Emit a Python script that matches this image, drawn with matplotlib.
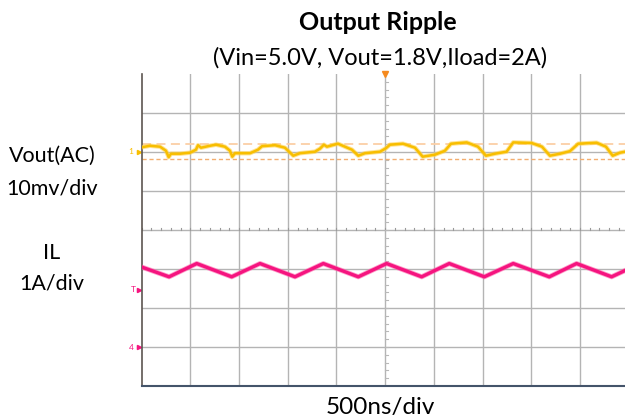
import numpy as np
import matplotlib
matplotlib.use("Agg")
import matplotlib.pyplot as plt

plt.rcParams['font.family'] = ['Lato', 'DejaVu Sans']

# scope settings
ns_per_div = 500
mv_per_div = 10
amp_per_div = 1
vout_ground_div = 2.0
il_ground_div = -3.0
trigger_div = -1.55
cursor_hi_mv = 1.95
cursor_lo_mv = -1.8

# Vout (AC) trace, time in ns, ripple in mV
vout_t = [3, 85, 188, 249, 277, 301, 393, 496, 557, 578, 609, 701, 763, 855, 906, 930,
          957, 1112, 1194, 1235, 1369, 1471, 1556, 1625, 1779, 1830, 1871, 1902, 2015,
          2087, 2159, 2224, 2293, 2447, 2508, 2549, 2683, 2806, 2885, 3011, 3114, 3176,
          3337, 3453, 3535, 3627, 3747, 3815, 4004, 4110, 4192, 4295, 4397, 4482, 4671,
          4767, 4836, 4911, 4962]
vout_mv = [1.23, 1.6, 1.36, 0.33, -1.33, -0.44, -0.44, -0.18, 0.59, 1.74, 1.1, 1.6, 1.87,
           1.36, 0.33, -1.2, -0.31, -0.31, 0.59, 1.49, 1.74, 1.1, -0.95, -0.31, 0.08, 0.85,
           1.87, 1.36, 2.13, 1.36, 0.59, -0.95, -0.31, 0.08, 0.97, 1.87, 2.13, 1.1, -1.2,
           -0.69, 0.33, 2.13, 2.46, 1.36, -0.95, -0.44, 0.08, 2.46, 2.31, 1.36, -0.95,
           -0.44, 0.21, 2.13, 2.38, 1.36, -0.95, -0.18, 0.08]

# inductor current, time in ns, current in A
il_t = [0, 281, 565, 924, 1215, 1574, 1865, 2224, 2515, 2875, 3158, 3518, 3815, 4185,
        4465, 4825, 4962]
il_a = [2.05, 1.80, 2.14, 1.80, 2.14, 1.80, 2.14, 1.80, 2.14, 1.80, 2.14, 1.80, 2.14,
        1.80, 2.14, 1.80, 1.96]

yellow = '#F8BE00'
magenta = '#F5147F'

fig = plt.figure(figsize=(6.25, 4.19), dpi=100)
ax = fig.add_axes([141.7 / 625, 33 / 419, (625 - 141.7) / 625, 312 / 419])
ax.set_xlim(0, 9.925)
ax.set_ylim(-4, 4)

# graticule
for gx in range(1, 10):
    ax.axvline(gx, color='#b4b4b4', lw=1.0, zorder=1)
for gy in range(-3, 4):
    ax.axhline(gy, color='#b4b4b4', lw=1.0, zorder=1)
minor = np.arange(0, 10, 0.2)
ax.plot(np.repeat(minor, 3), np.tile([0, 0.05, np.nan], len(minor)), color='#9a9a9a', lw=0.8, zorder=1)
minor_y = np.arange(-4, 4, 0.2)
ax.plot(np.tile([5, 5.06, np.nan], len(minor_y)), np.repeat(minor_y, 3), color='#b8b8b8', lw=0.8, zorder=1)

# cursors
ax.axhline(vout_ground_div + cursor_hi_mv / mv_per_div, color='#FBCFA6', lw=1.3, dashes=(5, 3), zorder=2)
ax.axhline(vout_ground_div + cursor_lo_mv / mv_per_div, color='#F3AE70', lw=1.0, dashes=(3, 2), zorder=2)

# traces
vx = np.array(vout_t) / ns_per_div
vy = vout_ground_div + np.array(vout_mv) / mv_per_div
ax.plot(vx, vy, color='#FFD24D', lw=3.2, alpha=0.6, solid_joinstyle='round', zorder=3)
ax.plot(vx, vy, color=yellow, lw=1.8, solid_joinstyle='round', zorder=3)
ix = np.array(il_t) / ns_per_div
iy = il_ground_div + np.array(il_a) / amp_per_div
ax.plot(ix, iy, color='#FF5CA8', lw=3.6, alpha=0.6, solid_joinstyle='round', zorder=3)
ax.plot(ix, iy, color=magenta, lw=2.4, solid_joinstyle='round', zorder=3)

# channel markers
ax.annotate('1', (0, vout_ground_div), xytext=(-6, 0), textcoords='offset points',
            ha='right', va='center', fontsize=6, color=yellow, annotation_clip=False)
ax.plot([-0.06], [vout_ground_div], marker='>', ms=3, color=yellow, clip_on=False)
ax.annotate('T', (0, trigger_div), xytext=(-4, 1), textcoords='offset points',
            ha='right', va='center', fontsize=6, color=magenta, annotation_clip=False)
ax.plot([-0.06], [trigger_div], marker='>', ms=3, color=magenta, clip_on=False)
ax.annotate('4', (0, il_ground_div), xytext=(-6, 0), textcoords='offset points',
            ha='right', va='center', fontsize=6, color=magenta, annotation_clip=False)
ax.plot([-0.06], [il_ground_div], marker='>', ms=3, color=magenta, clip_on=False)
ax.plot([5], [4], marker='v', ms=5, color='#F58A1F', clip_on=False, zorder=5)

for s in ['top', 'right']:
    ax.spines[s].set_visible(False)
ax.spines['left'].set_color('#5c5550')
ax.spines['left'].set_linewidth(1.2)
ax.spines['bottom'].set_color('#44546A')
ax.spines['bottom'].set_linewidth(1.5)
ax.set_xticks([])
ax.set_yticks([])

fig.text(378 / 625, 1 - 22 / 419, 'Output Ripple', ha='center', va='center',
         fontsize=18, fontweight='bold')
fig.text(380 / 625, 1 - 58 / 419, '(Vin=5.0V, Vout=1.8V,Iload=2A)', ha='center', va='center',
         fontsize=17)
fig.text(52 / 625, 1 - 156 / 419, 'Vout(AC)', ha='center', va='center', fontsize=15.5)
fig.text(52 / 625, 1 - 188 / 419, '10mv/div', ha='center', va='center', fontsize=15.5)
fig.text(52 / 625, 1 - 253 / 419, 'IL', ha='center', va='center', fontsize=15.5)
fig.text(52 / 625, 1 - 284 / 419, '1A/div', ha='center', va='center', fontsize=15.5)
fig.text(380 / 625, 1 - 407 / 419, '500ns/div', ha='center', va='center', fontsize=17.5)

fig.savefig('out.png', dpi=100)
